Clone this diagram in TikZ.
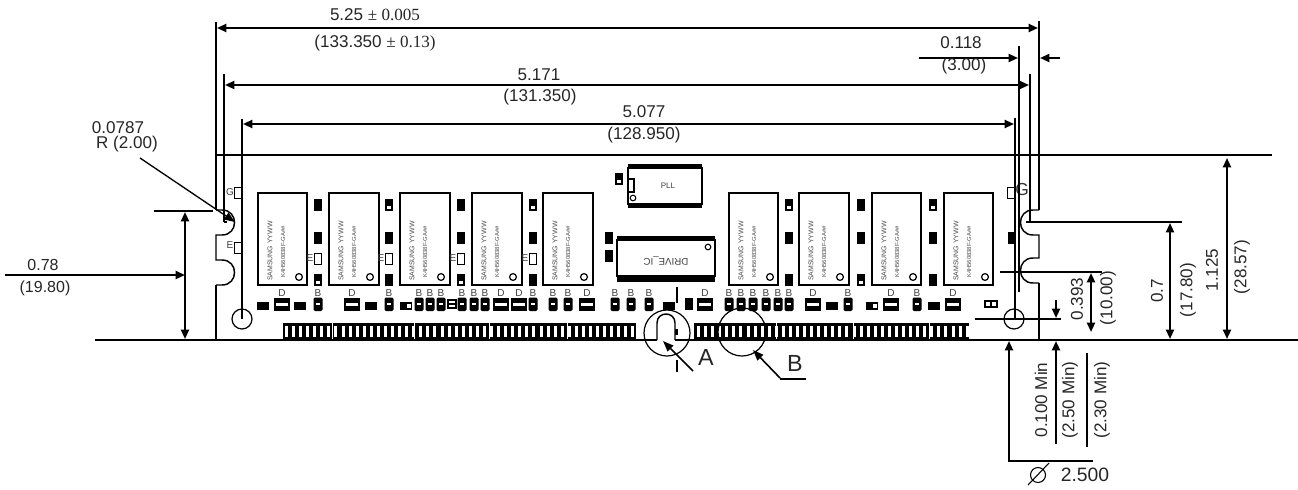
\documentclass[tikz,border=0pt]{standalone}
\usepackage{fontspec}
\setmainfont{Liberation Sans}
\newfontfamily\timesf{Liberation Serif}
\usetikzlibrary{arrows.meta}
\tikzset{
  x=0.75pt,y=-0.75pt,
  dim/.style={line width=1.5pt,line cap=butt},
  thin line/.style={line width=1.1pt},
  arr/.style={line width=1.5pt,-{Triangle[length=7pt,width=6pt]}},
  arrb/.style={line width=1.5pt,{Triangle[length=7pt,width=6pt]}-{Triangle[length=7pt,width=6pt]}},
  lab/.style={inner sep=0pt,font=\fontsize{12.8}{12.8}\selectfont,text=black!85},
  labs/.style={inner sep=0pt,font=\fontsize{12}{12}\selectfont,text=black!85},
  rlab/.style={lab,rotate=90},
  big/.style={inner sep=0pt,font=\fontsize{17.5}{17.5}\selectfont,text=black!85},
  tiny lab/.style={inner sep=0pt,font=\fontsize{7.5}{7.5}\selectfont,text=black!75},
  chiptext/.style={inner sep=0pt,rotate=90,font=\fontsize{5.2}{5.2}\selectfont,text=black!70},
  chiptextb/.style={inner sep=0pt,rotate=90,font=\fontsize{4.4}{4.4}\selectfont,text=black!70},
  chipbox/.style={draw,line width=1.4pt,fill=white},
  pad/.style={fill=black},
}
% chip body with its marking and pin-1 circle
\newcommand{\memchip}[2]{%
  \draw[chipbox] (#1,193) rectangle (#1+#2,285);
  \node[chiptext] at (#1+12,251) {SAMSUNG YYWW};
  \node[chiptextb] at (#1+25,252) {K4H560838F-GA\#\#};
  \draw[line width=.9pt] (#1+41,277) circle (3.4);
}
% solid vertical pad / pad with white window / open box
\newcommand{\padS}[2]{\fill[pad] (#1-4,#2-6) rectangle (#1+4,#2+6);}
\newcommand{\padW}[2]{\fill[pad] (#1-4,#2-6) rectangle (#1+4,#2+6); \fill[white] (#1-2,#2+0.5) rectangle (#1+2,#2+4);}
\newcommand{\padO}[2]{\draw[line width=1.3pt,fill=white] (#1-3.5,#2-5.5) rectangle (#1+3.5,#2+5.5);}
% horizontal pad
\newcommand{\padH}[1]{\fill[pad] (#1-6,302) rectangle (#1+6,310);}
\newcommand{\padHW}[1]{\fill[pad] (#1-6,302) rectangle (#1+6,310); \fill[white] (#1+1,304) rectangle (#1+5,308);}
% B and D lower parts, with letters
\newcommand{\compB}[1]{%
  \fill[pad,rounded corners=1pt] (#1-4.5,297.5) rectangle (#1+4.5,311);
  \fill[white] (#1-2,303) rectangle (#1+2,305);
  \node[tiny lab] at (#1,293) {B};
}
\newcommand{\compD}[1]{%
  \fill[pad] (#1-8,298) rectangle (#1+8,310.5);
  \fill[white] (#1-6,303) rectangle (#1+6,306);
  \node[tiny lab] at (#1,293) {D};
}
\begin{document}
\begin{tikzpicture}
\useasboundingbox (0,0) rectangle (1298,489);

% ---------- memory chips ----------
\foreach \cx/\cw in {258/49,329/50,400/50,472/50,543/50,729/49,799/50,872/49,944/49}{\memchip{\cx}{\cw}}

% ---------- vertical pads ----------
\foreach \px in {318,389,461,533}{\padO{\px}{259}\padS{\px}{238}}
\padS{318}{205}\padW{318}{280}
\padW{389}{205}\padS{389}{280}
\padS{461}{205}\padW{461}{280}
\padW{533}{205}\padS{533}{280}
\padS{609}{238}\padS{609}{256}
\padW{789}{205}\padS{789}{238}\padS{789}{280}
\padS{861}{205}\padS{861}{238}\padW{861}{280}
\padW{933}{205}\padS{933}{238}\padS{933}{280}
\padS{1012}{238}
\padO{1011}{193}
\padO{238}{193}
\padO{238}{248}
\foreach \ex in {310,381,453,525}{\node[tiny lab] at (\ex,258) {E};}
\node[tiny lab] at (230,192) {G};
\node[tiny lab] at (230,245) {E};
\node[inner sep=0pt,font=\fontsize{13}{13}\selectfont,text=black!80] (gr) at (1022,190) {G};

% ---------- PLL ----------
\fill[pad] (628,164) rectangle (702,208);
\draw[chipbox] (628,168) rectangle (702,204);
\draw[line width=1.1pt] (628,179) rectangle (634,192);
\draw[line width=.8pt] (633,198) circle (2.8);
\node[inner sep=0pt,font=\fontsize{6}{6}\selectfont,text=black!75] (pll) at (668,186) {PLL};
\padW{619}{179}

% ---------- drive IC ----------
\fill[pad] (617,236) rectangle (715,282);
\draw[chipbox] (617,240) rectangle (715,276);
\draw[line width=.8pt] (708,247) circle (2.8);
\node[inner sep=0pt,rotate=180,font=\fontsize{7.3}{7.3}\selectfont,text=black!75] (drv) at (666,261) {DRIVE\_IC};

% ---------- lower row of parts ----------
\foreach \p in {263,300,371,669,832,934}{\padH{\p}}
\padHW{406}\padHW{872}
\foreach \b in {318,389,419,430,441,462,474,485,533,553,568,615,631,649,729,741,753,766,778,789,848,917}{\compB{\b}}
\foreach \d in {282,352,501,519,587,705,813,891,953}{\compD{\d}}
\draw[line width=1.2pt,fill=white] (448,300) rectangle (456,308);
\fill[pad] (448,303) rectangle (456,305);
\fill[pad] (685,298) rectangle (693,310);
\fill[pad] (984,300) rectangle (998,308);
\fill[white] (986,302) rectangle (990,306);
\fill[white] (992,302) rectangle (996,306);
\draw[line width=1.1pt] (677,287) -- (677,303);

% ---------- edge connector ----------
\fill[pad] (283,323) rectangle (636,340);
\fill[pad] (694,323) rectangle (969,340);
\foreach \i in {0,...,49}{\fill[white] ({285+7.07*\i},325.5) rectangle ({288+7.07*\i},337);}
\foreach \i in {0,...,38}{\fill[white] ({697+7.07*\i},325.5) rectangle ({700+7.07*\i},337);}
\foreach \s in {332,414,489,567,776,853,929}{\draw[white,line width=.5pt] (\s,323) -- (\s,340);}
\fill[pad] (675,329) rectangle (678,335);

% ---------- board outline ----------
\draw[thin line] (216,210) -- (222,210) .. controls (238.7,210) and (238.7,235) .. (222,235) -- (216,235) -- (216,260) -- (222,260) .. controls (238.7,260) and (238.7,285) .. (222,285) -- (216,285);
\draw[thin line] (1039,210) -- (1033,210) .. controls (1016.3,210) and (1016.3,235) .. (1033,235) -- (1039,235) -- (1039,258) -- (1033,258) .. controls (1016.3,258) and (1016.3,283) .. (1033,283) -- (1039,283);
\draw[thin line] (657,340) -- (657,323) .. controls (657,311) and (675,311) .. (675,323) -- (675,340);
\draw[dim] (216,155) -- (216,210);
\draw[dim] (216,285) -- (216,340);
\draw[dim] (1039,283) -- (1039,340);
\draw[dim] (95,340) -- (657,340);
\draw[dim] (675,340) -- (1298,340);
\draw[dim] (216,155) -- (1272,155);

% ---------- holes and detail circles ----------
\draw[line width=.9pt] (242,319) circle (10);
\draw[line width=.9pt] (1014,319) circle (10);
\draw[line width=.9pt] (667,333) circle (23);
\draw[line width=.9pt] (742,332) circle (24);

% ---------- extension lines ----------
\coordinate (L1t) at (216,22);   \coordinate (L1b) at (216,155);
\coordinate (L2t) at (224,74);   \coordinate (L2b) at (224,222);
\coordinate (L3t) at (242,119);  \coordinate (L3b) at (242,319);
\coordinate (R1t) at (1039,21);  \coordinate (R1b) at (1039,210);
\coordinate (R2t) at (1030,74);  \coordinate (R2b) at (1030,222);
\coordinate (R3t) at (1019,46);  \coordinate (R3b) at (1019,292);
\coordinate (R4t) at (1015,118); \coordinate (R4b) at (1015,320);
\foreach \a/\b in {L1t/L1b,R1t/R1b,R2t/R2b}{\draw[dim] (\a) -- (\b);}
\foreach \a/\b in {L2t/L2b,L3t/L3b,R3t/R3b,R4t/R4b}{\draw[line width=1.2pt] (\a) -- (\b);}
\draw[line width=1.2pt] (224,222) -- (227,222);
\draw[dim] (154,211) -- (213,211);
\draw[dim] (1026,222) -- (1182,222);
\draw[dim] (1000,272) -- (1102,272);
\draw[dim] (975,319) -- (1061,319);

% ---------- horizontal dimensions ----------
\draw[arrb] (217,28) -- (1038,28);
\draw[arrb] (225,85) -- (1029,85);
\draw[arrb] (243,124) -- (1014,124);
\draw[arr] (919,58) -- (1018,58);
\draw[arr] (1060,58) -- (1040,58);
\draw[arr] (5,275) -- (185,275);

% ---------- vertical dimensions ----------
\draw[arrb] (185,212) -- (185,339);
\draw[arrb] (1091,273) -- (1091,332);
\draw[arrb] (1170,223) -- (1170,339);
\draw[arrb] (1227,158) -- (1227,339);
\draw[arr] (1056,300) -- (1056,318);
\draw[arr] (1056,444) -- (1056,341);
\draw[dim] (1087,353) -- (1087,447);
\draw[arr] (1093,461) -- (1009,461) -- (1009,341);

% ---------- leaders ----------
\draw[line width=1pt,-{Triangle[length=8pt,width=6pt]}] (140,158) -- (235,222);
\draw[line width=1.2pt,-{Triangle[length=8pt,width=6pt]}] (693,371) -- (663,341);
\draw[line width=1.2pt] (677,360) -- (677,372);
\draw[line width=1.2pt,-{Triangle[length=8pt,width=6pt]}] (780,378) -- (753,350);
\draw[dim] (780,379) -- (806,379);

% ---------- labels ----------
\node[lab] (t1) at (375,15) {5.25 {\timesf ± 0.005}};
\node[lab] (t2) at (375,43) {(133.350 {\timesf ± 0.13)}};
\node[lab] (t3) at (539,75) {5.171};
\node[lab] (t4) at (540,97) {(131.350)};
\node[lab] (t5) at (644,112) {5.077};
\node[lab] (t6) at (644,135) {(128.950)};
\node[lab] (t7) at (961,43) {0.118};
\node[lab] (t8) at (964,66) {(3.00)};
\node[lab] (t9) at (118,128) {0.0787};
\node[lab] (t10) at (127,144) {R (2.00)};
\node[labs] (t11) at (43,265) {0.78};
\node[labs] (t12) at (45,288) {(19.80)};
\node[rlab] (t13) at (1041,400) {0.100 Min};
\node[rlab] (t14) at (1070,400) {(2.50 Min)};
\node[rlab] (t15) at (1102,400) {(2.30 Min)};
\node[rlab] (t16) at (1077,299) {0.393};
\node[rlab] (t17) at (1108,298) {(10.00)};
\node[rlab] (t18) at (1157,291) {0.7};
\node[rlab] (t19) at (1188,290) {(17.80)};
\node[rlab] (t20) at (1212,270) {1.125};
\node[rlab] (t21) at (1242,267) {(28.57)};
\node[inner sep=0pt,font=\fontsize{14.5}{14.5}\selectfont,text=black!85] (t22) at (1085,475) {2.500};
\draw[line width=.8pt] (1038,475) circle (7.5);
\draw[line width=.8pt] (1028,485) -- (1049,463);
\node[big] (tA) at (706,357) {A};
\node[big] (tB) at (795,363) {B};
\end{tikzpicture}
\end{document}
